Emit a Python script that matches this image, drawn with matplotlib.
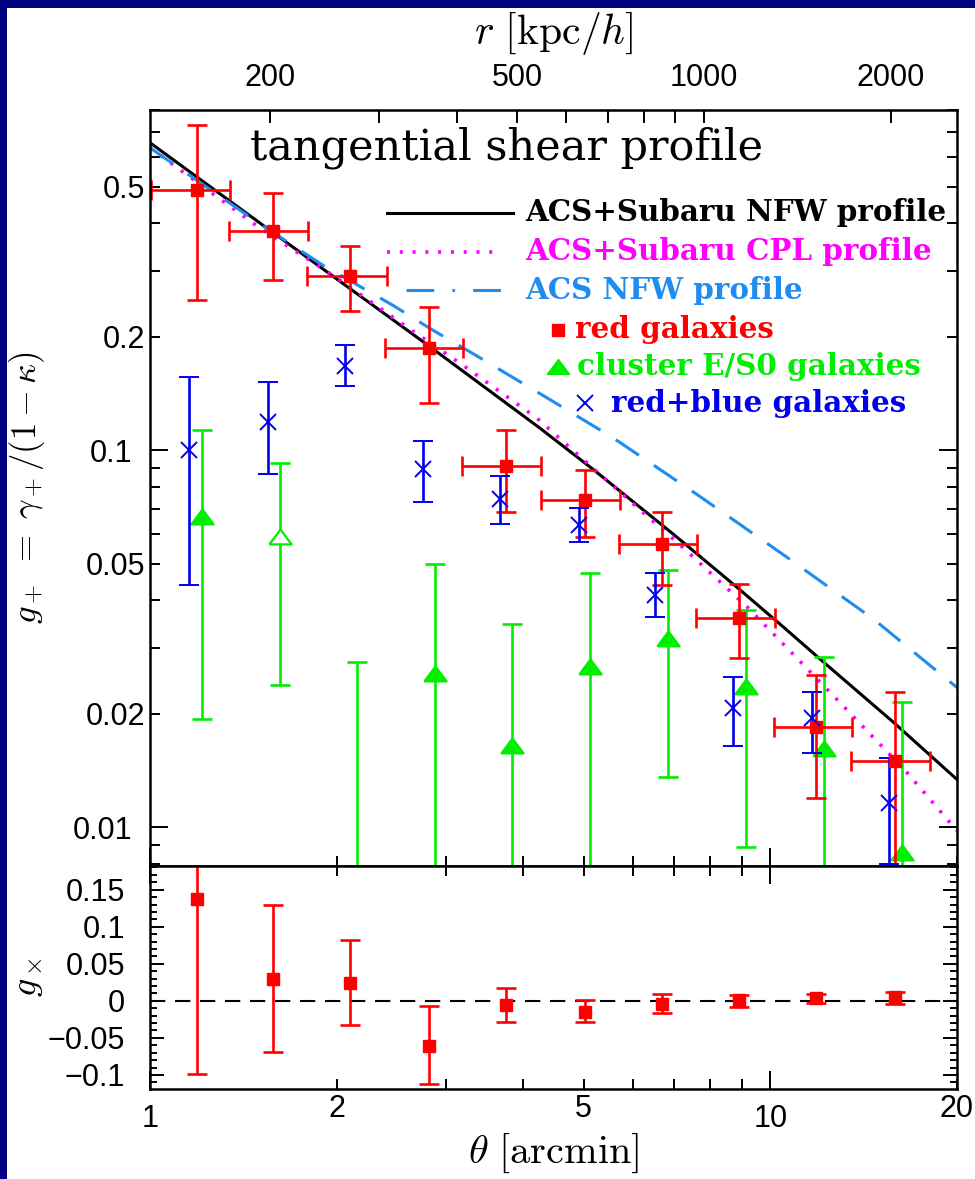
import numpy as np
import matplotlib
matplotlib.use("Agg")
import matplotlib.pyplot as plt
from matplotlib.patches import Rectangle
from matplotlib.ticker import LogLocator, FuncFormatter, MultipleLocator, FixedLocator

plt.rcParams['mathtext.fontset'] = 'cm'
plt.rcParams['lines.scale_dashes'] = False

# ---- data ----
# red galaxies, tangential shear
theta_red = [1.19, 1.58, 2.10, 2.82, 3.75, 5.02, 6.69, 8.91, 11.87, 15.89]
theta_red_lo = [1.005, 1.34, 1.79, 2.39, 3.19, 4.27, 5.70, 7.59, 10.13, 13.51]
theta_red_hi = [1.346, 1.80, 2.41, 3.20, 4.27, 5.72, 7.61, 10.16, 13.56, 18.08]
g_red = [0.490, 0.383, 0.291, 0.187, 0.0911, 0.0739, 0.0565, 0.0360, 0.0185, 0.0150]
g_red_hi = [0.732, 0.482, 0.348, 0.240, 0.1135, 0.0885, 0.0686, 0.0442, 0.0253, 0.0228]
g_red_lo = [0.251, 0.284, 0.234, 0.134, 0.0686, 0.0591, 0.0440, 0.0282, 0.0120, 0.005]

# red+blue galaxies
theta_rb = [1.157, 1.547, 2.066, 2.75, 3.67, 4.91, 6.53, 8.72, 11.68, 15.54]
g_rb = [0.100, 0.1187, 0.168, 0.0893, 0.0743, 0.0635, 0.0414, 0.0207, 0.0195, 0.0116]
g_rb_hi = [0.1566, 0.1515, 0.190, 0.1061, 0.0853, 0.0703, 0.0473, 0.0251, 0.0228, 0.0153]
g_rb_lo = [0.0440, 0.0867, 0.148, 0.0732, 0.0639, 0.0571, 0.0362, 0.0164, 0.0158, 0.0080]

# cluster E/S0 galaxies (values below 0.008 are off the plot)
theta_es0 = [1.214, 1.62, 2.16, 2.88, 3.84, 5.13, 6.85, 9.13, 12.20, 16.29]
g_es0 = [0.0666, 0.0589, 0.004, 0.0256, 0.0164, 0.0267, 0.0316, 0.0236, 0.0161, 0.00853]
g_es0_hi = [0.113, 0.0926, 0.0274, 0.050, 0.0347, 0.0474, 0.0482, 0.0378, 0.0284, 0.0215]
g_es0_lo = [0.0194, 0.0238, 0.001, 0.001, 0.001, 0.001, 0.01364, 0.00889, 0.001, 0.001]
es0_open = [False, True, False, False, False, False, False, False, False, False]

# model curves
theta_nfw = [1.0, 1.58, 2.0, 2.82, 4.24, 5.18, 7.0, 8.83, 10.5, 12.2, 15.8, 20.0]
g_nfw = [0.655, 0.378, 0.285, 0.189, 0.115, 0.0891, 0.0597, 0.0434, 0.0340, 0.0274, 0.0190, 0.0134]
theta_cpl = [1.0, 1.5, 2.0, 2.6, 3.2, 4.2, 5.7, 7.3, 9.2, 11.0, 13.0, 16.6, 20.0]
g_cpl = [0.635, 0.39, 0.287, 0.212, 0.168, 0.122, 0.078, 0.0545, 0.0383, 0.0283, 0.0213, 0.0140, 0.0098]
theta_acs = [1.0, 1.5, 1.9, 2.46, 2.85, 3.31, 4.46, 5.58, 7.7, 10.6, 14.7, 20.0]
g_acs = [0.635, 0.40, 0.31, 0.243, 0.209, 0.181, 0.135, 0.108, 0.0755, 0.0523, 0.0356, 0.0235]

# cross shear, red galaxies
gx = [0.1374, 0.0297, 0.0239, -0.0608, -0.0054, -0.0149, -0.0045, 0.0005, 0.0036, 0.0058]
gx_hi = [0.25, 0.1288, 0.0815, -0.0063, 0.0176, 0.0009, 0.0095, 0.0077, 0.0095, 0.0122]
gx_lo = [-0.099, -0.0689, -0.0324, -0.1126, -0.028, -0.0284, -0.0162, -0.0077, -0.0032, -0.004]

kpc_per_arcmin = 128.0
r_major = [200, 500, 1000, 2000]
r_minor = [300, 400, 600, 700, 800, 900]

RED = '#ff0000'
GREEN = '#00ee00'
BLUE = '#0000ee'
MAGENTA = '#ff00ff'
SKY = '#1e8cf0'
TICKFONT = 'Liberation Sans'


def errs(v, lo, hi):
    v = np.asarray(v)
    return [v - np.asarray(lo), np.asarray(hi) - v]


def tick_fmt(v, pos):
    m = v / 10 ** np.floor(np.log10(abs(v)) + 1e-9)
    if round(m, 3) in (1.0, 2.0, 5.0):
        return ('%g' % v)
    return ''


fig = plt.figure(figsize=(9.75, 11.79), dpi=100)
fig.patch.set_facecolor('#000080')
fig.patches.append(Rectangle((7 / 975, 0), 1, 1 - 8 / 1179, transform=fig.transFigure,
                             facecolor='white', edgecolor='none', zorder=-10))

ax = fig.add_axes([150 / 975, 1 - 866 / 1179, 807 / 975, 756 / 1179])
axb = fig.add_axes([150 / 975, 1 - 1089 / 1179, 807 / 975, 223 / 1179], sharex=ax)

# curves
ax.plot(theta_nfw, g_nfw, color='black', lw=2.2)
ax.plot(theta_cpl, g_cpl, color=MAGENTA, lw=2.6, dashes=(2.2, 7))
ax.plot(theta_acs, g_acs, color=SKY, lw=2.2, dashes=(20, 13))

ebkw = dict(elinewidth=1.9, capsize=7, capthick=1.9)
ax.errorbar(theta_es0, g_es0, yerr=errs(g_es0, g_es0_lo, g_es0_hi), fmt='none', ecolor=GREEN, **ebkw)
tri = [(-1, -0.62), (1, -0.62), (0, 0.72), (-1, -0.62)]
for t, g, op in zip(theta_es0, g_es0, es0_open):
    ax.plot([t], [g], marker=tri, ms=16, color=GREEN, mfc='white' if op else GREEN,
            mec=GREEN, mew=1.6, ls='none')
ax.errorbar(theta_red, g_red, yerr=errs(g_red, g_red_lo, g_red_hi),
            xerr=errs(theta_red, theta_red_lo, theta_red_hi),
            fmt='s', color=RED, ms=8.5, **ebkw)
ax.errorbar(theta_rb, g_rb, yerr=errs(g_rb, g_rb_lo, g_rb_hi), fmt='x', color=BLUE,
            ms=12, mew=1.4, **ebkw)

ax.set_xscale('log')
ax.set_yscale('log')
ax.set_xlim(1, 20)
ax.set_ylim(0.0079, 0.80)

# legend and title drawn by hand
ax.text(0.124, 0.95, 'tangential shear profile', transform=ax.transAxes, fontsize=31,
        family='DejaVu Serif', va='center', ha='left')
lx = 0.4647
lfont = dict(transform=ax.transAxes, fontsize=21.2, family='DejaVu Serif', weight='bold',
             va='center', ha='left')
ax.plot([0.2937, 0.4498], [0.8638, 0.8638], transform=ax.transAxes, color='black', lw=2.2)
ax.text(lx, 0.8638, 'ACS+Subaru NFW profile', color='black', **lfont)
ax.plot([0.2937, 0.4312], [0.8122, 0.8122], transform=ax.transAxes, color=MAGENTA, lw=2.6,
        dashes=(2.2, 7))
ax.text(lx, 0.8122, 'ACS+Subaru CPL profile', color=MAGENTA, **lfont)
ax.plot([0.3172, 0.4498], [0.7619, 0.7619], transform=ax.transAxes, color=SKY, lw=2.2,
        dashes=(20, 13, 2, 13))
ax.text(lx, 0.7619, 'ACS NFW profile', color=SKY, **lfont)
ax.plot([0.505], [0.709], transform=ax.transAxes, marker='s', ms=8.5, color=RED)
ax.text(0.5266, 0.709, 'red galaxies', color=RED, **lfont)
ax.plot([0.505], [0.6601], transform=ax.transAxes, marker=tri, ms=16, color=GREEN)
ax.text(0.529, 0.6601, 'cluster E/S0 galaxies', color=GREEN, **lfont)
ax.plot([0.539], [0.6124], transform=ax.transAxes, marker='x', ms=12, mew=1.4, color=BLUE)
ax.text(0.5712, 0.6124, 'red+blue galaxies', color=BLUE, **lfont)

# bottom panel
axb.axhline(0, color='black', lw=1.5, dashes=(11, 7))
axb.errorbar(theta_red, gx, yerr=errs(gx, gx_lo, gx_hi), fmt='s', color=RED, ms=8.5, **ebkw)
axb.set_ylim(-0.119, 0.182)

# axes styling
for a in (ax, axb):
    for s in a.spines.values():
        s.set_linewidth(1.8)
    a.tick_params(which='both', direction='in', width=1.4, labelsize=22, right=True)
    a.tick_params(which='major', length=13)
    a.tick_params(which='minor', length=7)

ax.tick_params(which='both', top=False, labelbottom=False)
axb.tick_params(which='both', top=True)
axb.tick_params(axis='x', pad=11)
axb.tick_params(axis='y', pad=18)
ax.tick_params(axis='y', pad=13)

ax.yaxis.set_major_locator(LogLocator(base=10))
ax.yaxis.set_minor_locator(LogLocator(base=10, subs=np.arange(2, 10)))
ax.yaxis.set_major_formatter(FuncFormatter(tick_fmt))
ax.yaxis.set_minor_formatter(FuncFormatter(tick_fmt))

axb.xaxis.set_major_locator(LogLocator(base=10))
axb.xaxis.set_minor_locator(LogLocator(base=10, subs=np.arange(2, 10)))
axb.xaxis.set_major_formatter(FuncFormatter(tick_fmt))
axb.xaxis.set_minor_formatter(FuncFormatter(tick_fmt))
axb.yaxis.set_major_locator(MultipleLocator(0.05))
axb.yaxis.set_minor_locator(MultipleLocator(0.01))
axb.yaxis.set_major_formatter(FuncFormatter(lambda v, p: ('%g' % round(v, 3)).replace('-', '\u2212')))
axb.tick_params(axis='y', which='major', length=10)
axb.tick_params(axis='y', which='minor', length=5)

# top axis in physical radius
sec = ax.secondary_xaxis('top', functions=(lambda t: t * kpc_per_arcmin,
                                           lambda r: r / kpc_per_arcmin))
sec.set_xscale('log')
sec.xaxis.set_major_locator(FixedLocator(r_major))
sec.xaxis.set_minor_locator(FixedLocator(r_minor))
sec.xaxis.set_major_formatter(FuncFormatter(lambda v, p: '%d' % v))
sec.xaxis.set_minor_formatter(FuncFormatter(lambda v, p: ''))
sec.tick_params(which='both', direction='in', length=9, width=1.4, labelsize=22, pad=12)
sec.set_xlabel(r'$r\ [\mathrm{kpc}/h]$', fontsize=30, labelpad=14)

ax.set_ylabel(r'$g_+\ =\ \gamma_+/(1-\kappa)$', fontsize=25)
axb.set_ylabel(r'$g_\times$', fontsize=26)
axb.set_xlabel(r'$\theta\ [\mathrm{arcmin}]$', fontsize=29)
axb.xaxis.set_label_coords(0.5, -0.19)
ax.yaxis.set_label_coords(-0.128, 0.5)
axb.yaxis.set_label_coords(-0.13, 0.5)

for a in (ax, axb, sec):
    for lab in a.xaxis.get_ticklabels(which='both') + a.yaxis.get_ticklabels(which='both'):
        lab.set_family(TICKFONT)

fig.savefig('out.png', dpi=100, facecolor=fig.get_facecolor())
